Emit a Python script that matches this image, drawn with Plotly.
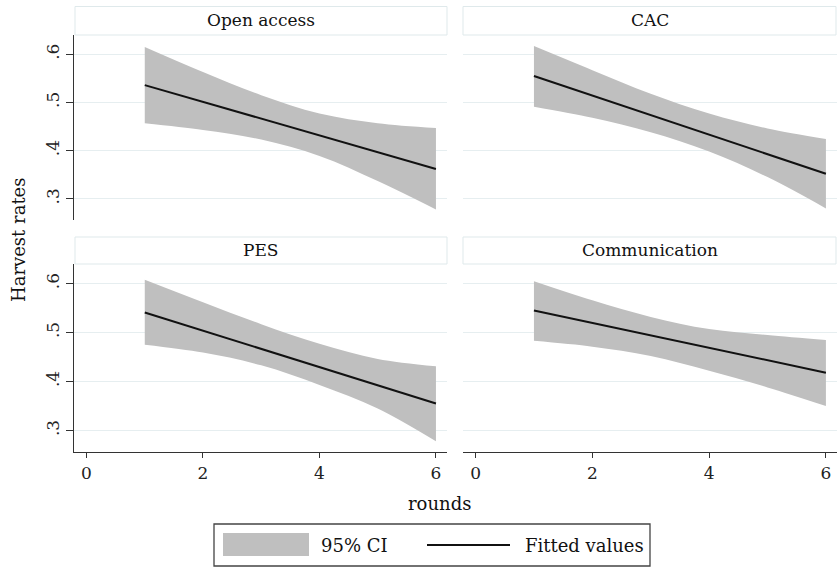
import plotly.graph_objects as go

# Data (fitted harvest rate and 95% CI by round)
panels = ["Open access", "CAC", "PES", "Communication"]
rounds = [1, 2, 3, 4, 5, 6]
fit_rounds = [1, 6]

open_fit = [0.536, 0.362]
open_hi = [0.615, 0.563, 0.515, 0.477, 0.457, 0.447]
open_lo = [0.457, 0.443, 0.423, 0.389, 0.337, 0.278]

cac_fit = [0.555, 0.352]
cac_hi = [0.617, 0.567, 0.518, 0.477, 0.446, 0.424]
cac_lo = [0.491, 0.468, 0.438, 0.398, 0.345, 0.280]

pes_fit = [0.541, 0.355]
pes_hi = [0.608, 0.562, 0.517, 0.477, 0.446, 0.431]
pes_lo = [0.475, 0.459, 0.433, 0.393, 0.345, 0.278]

comm_fit = [0.545, 0.418]
comm_hi = [0.605, 0.566, 0.532, 0.507, 0.495, 0.485]
comm_lo = [0.483, 0.471, 0.452, 0.422, 0.388, 0.350]

ytick_vals = [0.3, 0.4, 0.5, 0.6]
ytick_text = [".3", ".4", ".5", ".6"]
xtick_vals = [0, 2, 4, 6]

FONT = "DejaVu Serif"
BAND = "#bfbfbf"
GRID = "#e6eef0"
AXIS = "#333333"
W, H = 837, 567

series = [
    (open_fit, open_hi, open_lo),
    (cac_fit, cac_hi, cac_lo),
    (pes_fit, pes_hi, pes_lo),
    (comm_fit, comm_hi, comm_lo),
]

fig = go.Figure()
for i, (fit, hi, lo) in enumerate(series):
    sfx = "" if i == 0 else str(i + 1)
    fig.add_trace(go.Scatter(
        x=rounds, y=hi, mode="lines", line=dict(width=0, shape="spline", smoothing=1.0),
        xaxis="x" + sfx, yaxis="y" + sfx, showlegend=False, hoverinfo="skip",
    ))
    fig.add_trace(go.Scatter(
        x=rounds, y=lo, mode="lines", line=dict(width=0, shape="spline", smoothing=1.0),
        fill="tonexty", fillcolor=BAND, name="95% CI",
        xaxis="x" + sfx, yaxis="y" + sfx, showlegend=False,
    ))
    fig.add_trace(go.Scatter(
        x=fit_rounds, y=fit, mode="lines", line=dict(color="#111111", width=2),
        name="Fitted values", xaxis="x" + sfx, yaxis="y" + sfx, showlegend=False,
    ))


def px_x(p):
    return p / W


def px_y(p):
    return (H - p) / H


xdom_l = [px_x(74), px_x(447)]
xdom_r = [px_x(463), 1.0]
ydom_t = [px_y(220), px_y(35)]
ydom_b = [px_y(452), px_y(264)]
xrange = [-0.215, 6.19]
yrange = [0.256, 0.64]

tickfont = dict(family=FONT, size=17, color="#222222")


def xax(dom, anchor, show):
    return dict(domain=dom, anchor=anchor, range=xrange, tickvals=xtick_vals,
                showgrid=False, zeroline=False, showline=show, linecolor=AXIS, linewidth=1.3,
                ticks="outside" if show else "", ticklen=5, tickcolor=AXIS, tickwidth=1.3,
                showticklabels=show, tickfont=tickfont)


def yax(dom, anchor, show):
    return dict(domain=dom, anchor=anchor, range=yrange, tickvals=ytick_vals, ticktext=ytick_text,
                showgrid=True, gridcolor=GRID, gridwidth=1.2, zeroline=False,
                showline=show, linecolor=AXIS, linewidth=1.3,
                ticks="outside" if show else "", ticklen=7, tickcolor=AXIS, tickwidth=1.3,
                showticklabels=show, tickangle=-90, tickfont=tickfont)


shapes = []
annotations = []
strip_boxes = [
    (75, 447, 6.5, 35, panels[0]),
    (463, 836, 6.5, 35, panels[1]),
    (75, 447, 237, 264, panels[2]),
    (463, 836, 237, 264, panels[3]),
]
for x0, x1, y0, y1, label in strip_boxes:
    shapes.append(dict(type="rect", xref="paper", yref="paper",
                       x0=px_x(x0), x1=px_x(x1), y0=px_y(y1), y1=px_y(y0),
                       fillcolor="white", line=dict(color="#dfe9eb", width=1), layer="below"))
    annotations.append(dict(xref="paper", yref="paper", x=px_x((x0 + x1) / 2), y=px_y((y0 + y1) / 2 - 1),
                            text=label, showarrow=False, xanchor="center", yanchor="middle",
                            font=dict(family=FONT, size=17, color="#111111")))

# axis titles
annotations.append(dict(xref="paper", yref="paper", x=px_x(18), y=px_y(240), text="Harvest rates",
                        textangle=-90, showarrow=False, xanchor="center", yanchor="middle",
                        font=dict(family=FONT, size=18, color="#111111")))
annotations.append(dict(xref="paper", yref="paper", x=px_x(439), y=px_y(503), text="rounds",
                        showarrow=False, xanchor="center", yanchor="middle",
                        font=dict(family=FONT, size=18, color="#111111")))

# legend (drawn as a Stata-style box)
shapes.append(dict(type="rect", xref="paper", yref="paper", x0=px_x(214), x1=px_x(650),
                   y0=px_y(566), y1=px_y(524), line=dict(color="#444444", width=1.3), fillcolor="white"))
shapes.append(dict(type="rect", xref="paper", yref="paper", x0=px_x(223), x1=px_x(309),
                   y0=px_y(556), y1=px_y(533), line=dict(width=0), fillcolor=BAND))
shapes.append(dict(type="line", xref="paper", yref="paper", x0=px_x(427), x1=px_x(510),
                   y0=px_y(545), y1=px_y(545), line=dict(color="#111111", width=2)))
annotations.append(dict(xref="paper", yref="paper", x=px_x(319), y=px_y(545), text="95% CI",
                        showarrow=False, xanchor="left", yanchor="middle",
                        font=dict(family=FONT, size=18, color="#111111")))
annotations.append(dict(xref="paper", yref="paper", x=px_x(523), y=px_y(545), text="Fitted values",
                        showarrow=False, xanchor="left", yanchor="middle",
                        font=dict(family=FONT, size=18, color="#111111")))

fig.update_layout(
    width=W, height=H,
    margin=dict(l=0, r=0, t=0, b=0),
    paper_bgcolor="white", plot_bgcolor="white",
    font=dict(family=FONT, color="#111111"),
    showlegend=False,
    xaxis=xax(xdom_l, "y", False),
    yaxis=yax(ydom_t, "x", True),
    xaxis2=xax(xdom_r, "y2", False),
    yaxis2=yax(ydom_t, "x2", False),
    xaxis3=xax(xdom_l, "y3", True),
    yaxis3=yax(ydom_b, "x3", True),
    xaxis4=xax(xdom_r, "y4", True),
    yaxis4=yax(ydom_b, "x4", False),
    shapes=shapes,
    annotations=annotations,
)

# drop the default page margin so the figure sits at the window's top-left corner
fig.write_html("out.html", config={"displayModeBar": False},
               post_script="document.body.style.margin='0';document.body.style.overflow='hidden';")
